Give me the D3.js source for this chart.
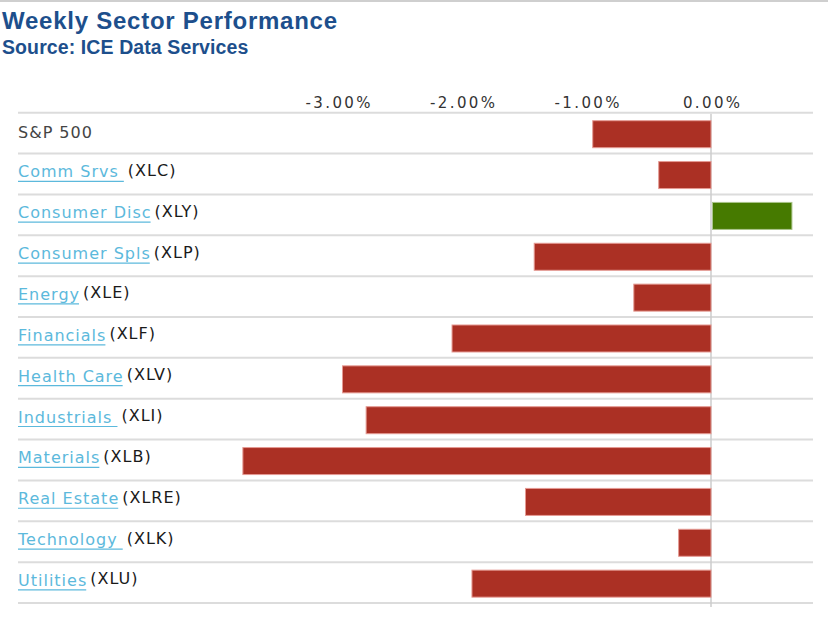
<!DOCTYPE html>
<html>
<head>
<meta charset="utf-8">
<script src="https://cdn.jsdelivr.net/npm/d3@7/dist/d3.min.js"></script>
<style>
  html, body { margin: 0; padding: 0; background: #fff; }
  svg { display: block; }
</style>
</head>
<body>
<svg id="chart" width="828" height="619"></svg>
<script>
// ---- Data ----
const sectors = ["S&P 500", "Comm Srvs ", "Consumer Disc", "Consumer Spls", "Energy", "Financials",
  "Health Care", "Industrials ", "Materials", "Real Estate", "Technology ", "Utilities"];
const tickers = ["", "(XLC)", "(XLY)", "(XLP)", "(XLE)", "(XLF)", "(XLV)", "(XLI)", "(XLB)", "(XLRE)", "(XLK)", "(XLU)"];
const isLink = [false, true, true, true, true, true, true, true, true, true, true, true];
const weeklyChange = [-0.95, -0.42, 0.65, -1.42, -0.62, -2.08, -2.96, -2.77, -3.76, -1.49, -0.26, -1.92];
const tickValues = [-3, -2, -1, 0];
const titleText = "Weekly Sector Performance";
const subtitleText = "Source: ICE Data Services";

const rows = sectors.map((s, i) => ({ key: i, name: s, ticker: tickers[i], link: isLink[i], value: weeklyChange[i] }));

const svg = d3.select("#chart");

// top border
svg.append("line").attr("x1", 0).attr("x2", 828).attr("y1", 1).attr("y2", 1)
  .attr("stroke", "#cfcfcf").attr("stroke-width", 2);

// title
svg.append("text").attr("x", 2).attr("y", 28.5)
  .attr("font-family", "'Liberation Sans', Arial, sans-serif").attr("font-weight", "bold")
  .attr("font-size", 24).attr("letter-spacing", 0.75).attr("fill", "#1d4f8c").text(titleText);
svg.append("text").attr("x", 2).attr("y", 53.5)
  .attr("font-family", "'Liberation Sans', Arial, sans-serif").attr("font-weight", "bold")
  .attr("font-size", 19.5).attr("letter-spacing", 0.1).attr("fill", "#1d4f8c").text(subtitleText);

// scales
const x = d3.scaleLinear().domain([-3, 0]).range([337.5, 711]);
const y = d3.scaleBand().domain(rows.map(d => d.key)).range([112.7, 603]).paddingInner(0).paddingOuter(0);

// axis (top)
const axis = d3.axisTop(x).tickValues(tickValues).tickSize(0).tickPadding(0)
  .tickFormat(d => (d < 0 ? "-" : "") + Math.abs(d).toFixed(2) + "%");
const gAxis = svg.append("g").attr("transform", "translate(0,108)").call(axis);
gAxis.select(".domain").remove();
gAxis.selectAll("text")
  .attr("font-family", "'DejaVu Sans', Verdana, sans-serif").attr("font-size", 15)
  .attr("letter-spacing", 2.4).attr("fill", "#333").attr("dy", 0)
  .attr("dx", 1.2);

// row lines
const lineYs = rows.map(d => y(d.key)).concat([y.range()[1]]);
svg.append("g").selectAll("line").data(lineYs).join("line")
  .attr("x1", 18).attr("x2", 813)
  .attr("y1", d => d).attr("y2", d => d)
  .attr("stroke", "#dcdcdc").attr("stroke-width", 2);

// zero line
svg.append("line").attr("x1", x(0)).attr("x2", x(0))
  .attr("y1", y.range()[0] + 1).attr("y2", y.range()[1] + 4)
  .attr("stroke", "#cccccc").attr("stroke-width", 1.5);

// bars
svg.append("g").selectAll("rect").data(rows).join("rect")
  .attr("x", d => Math.min(x(0), x(d.value)) + (d.value > 0 ? 1.5 : 0))
  .attr("width", d => Math.abs(x(d.value) - x(0)) - (d.value > 0 ? 1.5 : 0))
  .attr("y", d => y(d.key) + 8)
  .attr("height", 27)
  .attr("fill", d => d.value >= 0 ? "#467a00" : "#ab3024")
  .attr("stroke", d => d.value >= 0 ? "#a9c48a" : "#e59a93")
  .attr("stroke-width", 1);

// labels
const labelG = svg.append("g");
rows.forEach(d => {
  const base = y(d.key) + (d.link ? 23.8 : 25);
  const t = labelG.append("text").attr("x", 18).attr("y", base)
    .attr("font-family", "'DejaVu Sans', Verdana, sans-serif").attr("font-size", 16)
    .attr("letter-spacing", 1).style("white-space", "pre")
    .attr("fill", d.link ? "#5cb9dc" : "#444").text(d.name);
  const w = t.node().getComputedTextLength();
  if (d.link) {
    labelG.append("line").attr("x1", 18).attr("x2", 18 + w - 1)
      .attr("y1", base + 4).attr("y2", base + 4)
      .attr("stroke", "#5cb9dc").attr("stroke-width", 1.2);
  }
  if (d.ticker) {
    labelG.append("text").attr("x", 18 + w + 3).attr("y", base - 1.5)
      .attr("font-family", "'DejaVu Sans', Verdana, sans-serif").attr("font-size", 16)
      .attr("letter-spacing", 1).attr("fill", "#1a1a1a").text(d.ticker);
  }
});
</script>
</body>
</html>
